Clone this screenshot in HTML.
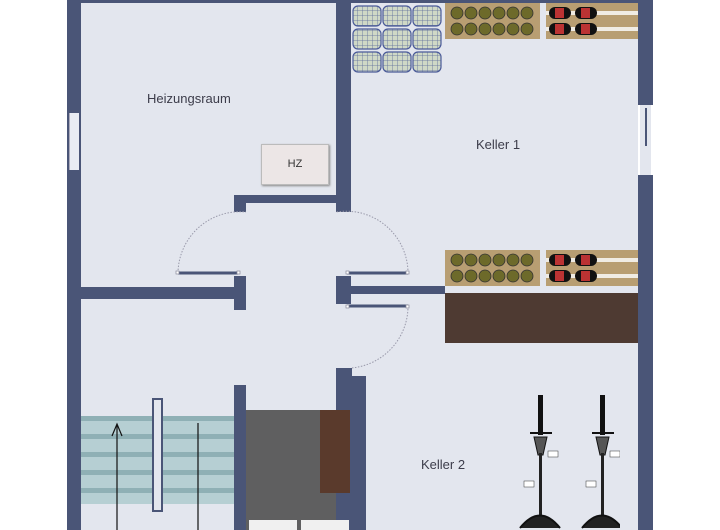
<!DOCTYPE html>
<html><head><style>
body{margin:0;background:#fff;}
#c{position:relative;width:720px;height:530px;overflow:hidden;background:#fff;font-family:"Liberation Sans",sans-serif;}
.a{position:absolute;}
.w{position:absolute;background:#4a5577;}
.t{position:absolute;font-size:13px;color:#3c3c4a;}
</style></head><body><div id="c">
<div class="a" style="left:81px;top:0;width:557px;height:530px;background:#e3e6ee"></div>
<!-- outer walls -->
<div class="w" style="left:67px;top:0;width:14px;height:530px"></div>
<div class="a" style="left:69px;top:113px;width:9px;height:57px;background:#e9ecf3;border-left:1px solid #aab"></div>
<div class="w" style="left:81px;top:0;width:557px;height:3px"></div>
<div class="w" style="left:638px;top:0;width:15px;height:105px"></div>
<div class="a" style="left:640px;top:105px;width:11px;height:70px;background:#e3e6ee"></div>
<div class="a" style="left:645px;top:108px;width:2px;height:38px;background:#4a5577"></div>
<div class="w" style="left:638px;top:175px;width:15px;height:355px"></div>
<!-- inner walls -->
<div class="w" style="left:336px;top:0;width:15px;height:212px"></div>
<div class="w" style="left:234px;top:195px;width:102px;height:8px"></div>
<div class="w" style="left:234px;top:195px;width:12px;height:17px"></div>
<div class="w" style="left:81px;top:287px;width:160px;height:12px"></div>
<div class="w" style="left:234px;top:276px;width:12px;height:34px"></div>
<div class="w" style="left:336px;top:276px;width:15px;height:28px"></div>
<div class="w" style="left:351px;top:286px;width:94px;height:8px"></div>
<div class="w" style="left:336px;top:368px;width:16px;height:162px"></div>
<div class="w" style="left:352px;top:376px;width:14px;height:154px"></div>
<div class="w" style="left:234px;top:385px;width:12px;height:145px"></div>
<!-- doors -->
<svg class="a" style="left:0;top:0" width="720" height="530">
<g fill="none" stroke="#99a" stroke-width="1" stroke-dasharray="1.5,1.5">
<path d="M178 273 A62 62 0 0 1 246 212"/>
<path d="M408 273 A62 62 0 0 0 336 212"/>
<path d="M408 306 A62 62 0 0 1 351 368"/>
</g>
<g stroke="#4a5577" stroke-width="3"><line x1="178" y1="273" x2="238" y2="273"/><line x1="347" y1="273" x2="408" y2="273"/><line x1="347" y1="306" x2="408" y2="306"/></g>
<g fill="#fff" stroke="#889" stroke-width=".7"><rect x="176" y="271" width="3" height="3"/><rect x="237" y="271" width="3" height="3"/><rect x="346" y="271" width="3" height="3"/><rect x="406" y="271" width="3" height="3"/><rect x="346" y="305" width="3" height="3"/><rect x="406" y="305" width="3" height="3"/></g>
</svg>
<!-- HZ -->
<div class="a" style="left:261px;top:144px;width:66px;height:39px;background:#ece6e6;border:1px solid #bbb;box-shadow:1px 1px 2px #888;font-size:11px;color:#333;text-align:center;line-height:39px">HZ</div>
<!-- crates -->
<svg class="a" style="left:352px;top:5px" width="92" height="72">
<defs><pattern id="g" width="5" height="5" patternUnits="userSpaceOnUse"><rect width="5" height="5" fill="#cfd8c6"/><path d="M0 0H5M0 0V5" stroke="#5a6a99" stroke-width=".8"/></pattern></defs>
<g stroke="#4a5a99" stroke-width="1.2" fill="url(#g)">
<rect x="1" y="1" width="28" height="20" rx="5"/><rect x="31" y="1" width="28" height="20" rx="5"/><rect x="61" y="1" width="28" height="20" rx="5"/>
<rect x="1" y="24" width="28" height="20" rx="5"/><rect x="31" y="24" width="28" height="20" rx="5"/><rect x="61" y="24" width="28" height="20" rx="5"/>
<rect x="1" y="47" width="28" height="20" rx="5"/><rect x="31" y="47" width="28" height="20" rx="5"/><rect x="61" y="47" width="28" height="20" rx="5"/>
</g></svg>
<!-- wine racks -->
<svg class="a" style="left:445px;top:3px" width="193" height="36">
<rect x="0" y="0" width="95" height="36" fill="#b89e72"/><rect x="101" y="0" width="92" height="36" fill="#b89e72"/>
<rect x="101" y="8" width="92" height="4" fill="#f0ece4"/><rect x="101" y="24" width="92" height="4" fill="#f0ece4"/>
<g fill="#6d6a2a" stroke="#333" stroke-width=".8"><circle cx="12" cy="10" r="6"/><circle cx="26" cy="10" r="6"/><circle cx="40" cy="10" r="6"/><circle cx="54" cy="10" r="6"/><circle cx="68" cy="10" r="6"/><circle cx="82" cy="10" r="6"/><circle cx="12" cy="26" r="6"/><circle cx="26" cy="26" r="6"/><circle cx="40" cy="26" r="6"/><circle cx="54" cy="26" r="6"/><circle cx="68" cy="26" r="6"/><circle cx="82" cy="26" r="6"/></g>
<g fill="#111"><rect x="104" y="4" width="22" height="12" rx="6"/><rect x="130" y="4" width="22" height="12" rx="6"/><rect x="104" y="20" width="22" height="12" rx="6"/><rect x="130" y="20" width="22" height="12" rx="6"/></g>
<g fill="#b33"><rect x="110" y="5" width="9" height="10"/><rect x="136" y="5" width="9" height="10"/><rect x="110" y="21" width="9" height="10"/><rect x="136" y="21" width="9" height="10"/></g>
</svg>
<svg class="a" style="left:445px;top:250px" width="193" height="36">
<rect x="0" y="0" width="95" height="36" fill="#b89e72"/><rect x="101" y="0" width="92" height="36" fill="#b89e72"/>
<rect x="101" y="8" width="92" height="4" fill="#f0ece4"/><rect x="101" y="24" width="92" height="4" fill="#f0ece4"/>
<g fill="#6d6a2a" stroke="#333" stroke-width=".8"><circle cx="12" cy="10" r="6"/><circle cx="26" cy="10" r="6"/><circle cx="40" cy="10" r="6"/><circle cx="54" cy="10" r="6"/><circle cx="68" cy="10" r="6"/><circle cx="82" cy="10" r="6"/><circle cx="12" cy="26" r="6"/><circle cx="26" cy="26" r="6"/><circle cx="40" cy="26" r="6"/><circle cx="54" cy="26" r="6"/><circle cx="68" cy="26" r="6"/><circle cx="82" cy="26" r="6"/></g>
<g fill="#111"><rect x="104" y="4" width="22" height="12" rx="6"/><rect x="130" y="4" width="22" height="12" rx="6"/><rect x="104" y="20" width="22" height="12" rx="6"/><rect x="130" y="20" width="22" height="12" rx="6"/></g>
<g fill="#b33"><rect x="110" y="5" width="9" height="10"/><rect x="136" y="5" width="9" height="10"/><rect x="110" y="21" width="9" height="10"/><rect x="136" y="21" width="9" height="10"/></g>
</svg>
<div class="a" style="left:445px;top:293px;width:193px;height:50px;background:#4e3a32"></div>
<!-- stairs -->
<div class="a" style="left:81px;top:416px;width:153px;height:88px;background:repeating-linear-gradient(#8fb0b5 0 5px,#b6cfd3 5px 18px)"></div>
<div class="a" style="left:152px;top:398px;width:7px;height:110px;background:#e3e6ee;border:2px solid #4a5577"></div>
<svg class="a" style="left:0;top:0" width="720" height="530"><g stroke="#111" stroke-width="1.2" fill="none"><line x1="117" y1="425" x2="117" y2="530"/><path d="M112 436 L117 424 L122 436"/><line x1="198" y1="423" x2="198" y2="530"/></g></svg>
<div class="a" style="left:246px;top:410px;width:90px;height:120px;background:#5f5f60"></div>
<div class="a" style="left:320px;top:410px;width:30px;height:83px;background:#5a3a2c"></div>
<div class="a" style="left:249px;top:520px;width:48px;height:10px;background:#f0f0f0"></div>
<div class="a" style="left:301px;top:520px;width:48px;height:10px;background:#f0f0f0"></div>
<!-- bikes -->
<svg class="a" style="left:510px;top:393px" width="110" height="137">
<g id="b"><rect x="28" y="2" width="5" height="40" fill="#111"/><line x1="20" y1="40" x2="42" y2="40" stroke="#111" stroke-width="2"/><path d="M24 44 L37 44 L33 62 L28 62Z" fill="#555" stroke="#111"/><rect x="29" y="60" width="3" height="65" fill="#222"/><rect x="38" y="58" width="10" height="6" fill="#fff" stroke="#333" stroke-width=".5"/><rect x="14" y="88" width="10" height="6" fill="#fff" stroke="#333" stroke-width=".5"/><path d="M10 135 Q30 110 50 135" fill="#222" stroke="#111" stroke-width="2"/></g>
<use href="#b" x="62"/>
</svg>
<!-- labels -->
<div class="t" style="left:147px;top:91px">Heizungsraum</div>
<div class="t" style="left:476px;top:137px">Keller 1</div>
<div class="t" style="left:421px;top:457px">Keller 2</div>
</div></body></html>
